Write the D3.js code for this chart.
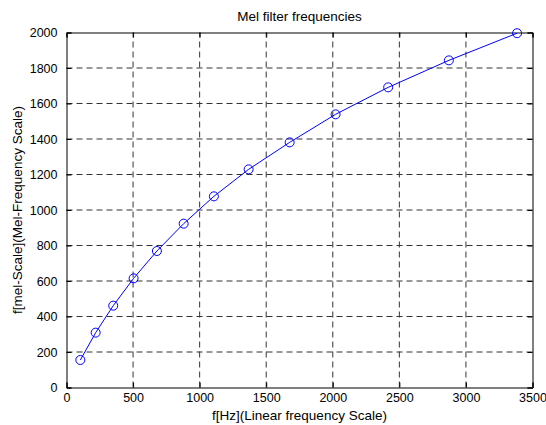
<!DOCTYPE html>
<html><head><meta charset="utf-8">
<script src="https://cdn.jsdelivr.net/npm/d3@7"></script>
<style>body{margin:0;background:#fff}svg{display:block}text{font-family:"Liberation Sans",Arial,sans-serif;fill:#000}</style>
</head><body>
<svg id="c" width="546" height="425"></svg>
<script>
const freqHz = [104, 219, 351, 504, 679, 880, 1107, 1368, 1676, 2021, 2416, 2872, 3384];
const melVals = [155, 309, 461, 615, 769, 923, 1077, 1229, 1381, 1539, 1691, 1843, 1996];
const xTicks = [0, 500, 1000, 1500, 2000, 2500, 3000, 3500];
const yTicks = [0, 200, 400, 600, 800, 1000, 1200, 1400, 1600, 1800, 2000];
const title = "Mel filter frequencies";
const xLabel = "f[Hz](Linear frequency Scale)";
const yLabel = "f[mel-Scale](Mel-Frequency Scale)";

const L = 66.5, R = 532.5, T = 32.5, B = 387.5;
const svg = d3.select("#c");
const x = d3.scaleLinear().domain([0, 3500]).range([L, R]);
const y = d3.scaleLinear().domain([0, 2000]).range([B, T]);

// grid
const g = svg.append("g");
g.selectAll(".gx").data(xTicks.slice(1, -1)).enter().append("line")
  .attr("x1", d => x(d)).attr("x2", d => x(d)).attr("y1", B).attr("y2", T)
  .attr("stroke", "#333").attr("stroke-width", 1).attr("stroke-dasharray", "6,4");
g.selectAll(".gy").data(yTicks.slice(1, -1)).enter().append("line")
  .attr("y1", d => y(d)).attr("y2", d => y(d)).attr("x1", L).attr("x2", R)
  .attr("stroke", "#333").attr("stroke-width", 1).attr("stroke-dasharray", "6,4");

// axes
const xa = svg.append("g").attr("transform", `translate(0,${B})`)
  .call(d3.axisBottom(x).tickValues(xTicks).tickSize(-5).tickPadding(6).tickFormat(d3.format("d")));
const xt = svg.append("g").attr("transform", `translate(0,${T})`)
  .call(d3.axisTop(x).tickValues(xTicks).tickSize(-5).tickFormat(""));
const ya = svg.append("g").attr("transform", `translate(${L},0)`)
  .call(d3.axisLeft(y).tickValues(yTicks).tickSize(-5).tickPadding(9).tickFormat(d3.format("d")));
const yr = svg.append("g").attr("transform", `translate(${R},0)`)
  .call(d3.axisRight(y).tickValues(yTicks).tickSize(-5).tickFormat(""));
[xa, xt, ya, yr].forEach(a => {
  a.selectAll("path").attr("stroke", "#000").attr("stroke-width", 1);
  a.selectAll("line").attr("stroke", "#000");
  a.selectAll("text").attr("font-family", "Liberation Sans, Arial, sans-serif").attr("font-size", 12.5).attr("fill", "#000");
});

// line + markers
const pts = freqHz.map((f, i) => [f, melVals[i]]);
svg.append("path").datum(pts)
  .attr("d", d3.line().x(d => x(d[0])).y(d => y(d[1])))
  .attr("fill", "none").attr("stroke", "#0000ff").attr("stroke-width", 1);
svg.selectAll(".m").data(pts).enter().append("circle")
  .attr("cx", d => x(d[0])).attr("cy", d => y(d[1])).attr("r", 4.5)
  .attr("fill", "none").attr("stroke", "#0000ff").attr("stroke-width", 1);

// labels
svg.append("text").attr("x", (L + R) / 2).attr("y", 21).attr("text-anchor", "middle").attr("font-size", 13.5).text(title);
svg.append("text").attr("x", (L + R) / 2).attr("y", 420).attr("text-anchor", "middle").attr("font-size", 13.5).text(xLabel);
svg.append("text").attr("transform", `translate(22,${(T + B) / 2}) rotate(-90)`).attr("text-anchor", "middle").attr("font-size", 13.5).text(yLabel);
</script>
</body></html>
